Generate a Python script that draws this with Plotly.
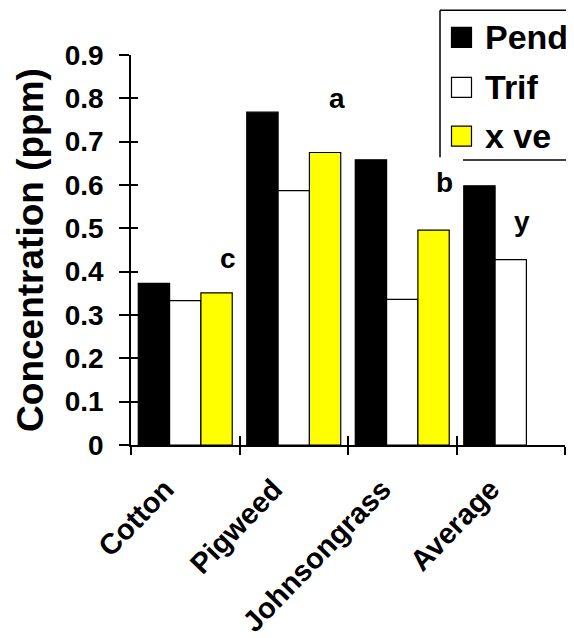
import plotly.graph_objects as go

categories = ["Cotton", "Pigweed", "Johnsongrass", "Average"]
series_names = ["Pend", "Trif", "x ve"]
pend = [0.373, 0.768, 0.658, 0.598]
trif = [0.333, 0.587, 0.336, 0.428]
xve = [0.351, 0.675, 0.496, None]
series_colors = ["#000000", "#FFFFFF", "#FFFF00"]
y_ticks = [0, 0.1, 0.2, 0.3, 0.4, 0.5, 0.6, 0.7, 0.8, 0.9]
y_tick_labels = ["0", "0.1", "0.2", "0.3", "0.4", "0.5", "0.6", "0.7", "0.8", "0.9"]
letters = ["c", "a", "b", "y"]
letter_x = [0.39, 1.40, 2.39, 3.10]
letter_y = [0.43, 0.80, 0.605, 0.515]

FONT = "Liberation Sans, Arial, sans-serif"

fig = go.Figure()
for name, vals, col in zip(series_names, [pend, trif, xve], series_colors):
    fig.add_trace(go.Bar(
        x=categories, y=vals, name=name,
        marker=dict(color=col, line=dict(color="#000000", width=1.2)),
        showlegend=False,
    ))

# invisible helper trace so overlay axes draw the inner half of crossing ticks
fig.add_trace(go.Scatter(x=categories, y=[None] * 4, xaxis="x2", yaxis="y2",
                         mode="markers", showlegend=False, hoverinfo="skip"))

for t, xv, yv in zip(letters, letter_x, letter_y):
    fig.add_annotation(x=xv, y=yv, text=f"<b>{t}</b>", showarrow=False,
                       font=dict(family=FONT, size=28, color="#000000"))

# custom legend
legend_rows_y = [1.045, 0.917, 0.792]
for name, col, ly in zip(series_names, series_colors, legend_rows_y):
    fig.add_shape(type="rect", xref="paper", yref="paper",
                  xsizemode="pixel", ysizemode="pixel",
                  xanchor=0.7615, yanchor=ly, x0=-10, x1=10, y0=-10, y1=10,
                  fillcolor=col, line=dict(color="#000000", width=1.2))
    fig.add_annotation(xref="paper", yref="paper", x=0.81, y=ly,
                       xanchor="left", yanchor="middle", showarrow=False,
                       text=f"<b>{name}</b>",
                       font=dict(family=FONT, size=34, color="#000000"))

# legend frame (partially off-page like the reference)
frame = dict(color="#000000", width=1.5)
fig.add_shape(type="line", xref="paper", yref="paper", x0=0.712, x1=1.08, y0=1.115, y1=1.115, line=frame)
fig.add_shape(type="line", xref="paper", yref="paper", x0=0.712, x1=0.712, y0=1.115, y1=0.738, line=frame)
fig.add_shape(type="line", xref="paper", yref="paper", x0=0.765, x1=1.08, y0=0.731, y1=0.731, line=frame)

fig.update_layout(
    width=574, height=638,
    margin=dict(l=123, r=17, t=47, b=201, autoexpand=False),
    paper_bgcolor="white", plot_bgcolor="white",
    barmode="group", bargap=0.134, bargroupgap=0,
    font=dict(family=FONT, color="#000000"),
    xaxis=dict(
        type="category", categoryorder="array", categoryarray=categories,
        tickson="boundaries", ticks="outside", ticklen=8, tickwidth=1.5, tickcolor="#000000",
        showline=True, linecolor="#000000", linewidth=1.5,
        tickangle=-46, tickfont=dict(family=FONT, size=29, color="#000000", weight="bold"),
        ticklabelstandoff=14, ticklabelshift=-20,
        automargin=False, showgrid=False, zeroline=False,
    ),
    xaxis2=dict(
        type="category", categoryorder="array", categoryarray=categories,
        overlaying="x", matches="x", side="bottom",
        tickson="boundaries", ticks="inside", ticklen=9, tickwidth=1.5, tickcolor="#000000",
        showticklabels=False, showline=False, showgrid=False, zeroline=False,
    ),
    yaxis=dict(
        range=[0, 0.9], tickvals=y_ticks, ticktext=y_tick_labels,
        ticks="outside", ticklen=10, tickwidth=1.5, tickcolor="#000000",
        showline=True, linecolor="#000000", linewidth=1.5,
        tickfont=dict(family=FONT, size=28, color="#000000", weight="bold"),
        ticklabelstandoff=10,
        title=dict(text="<b>Concentration (ppm)</b>", standoff=10,
                   font=dict(family=FONT, size=37, color="#000000")),
        automargin=False, showgrid=False, zeroline=False,
    ),
    yaxis2=dict(
        range=[0, 0.9], tickvals=y_ticks, overlaying="y", matches="y", side="left",
        ticks="inside", ticklen=7, tickwidth=1.5, tickcolor="#000000",
        showticklabels=False, showline=False, showgrid=False, zeroline=False,
    ),
)

fig.write_html("out.html")
